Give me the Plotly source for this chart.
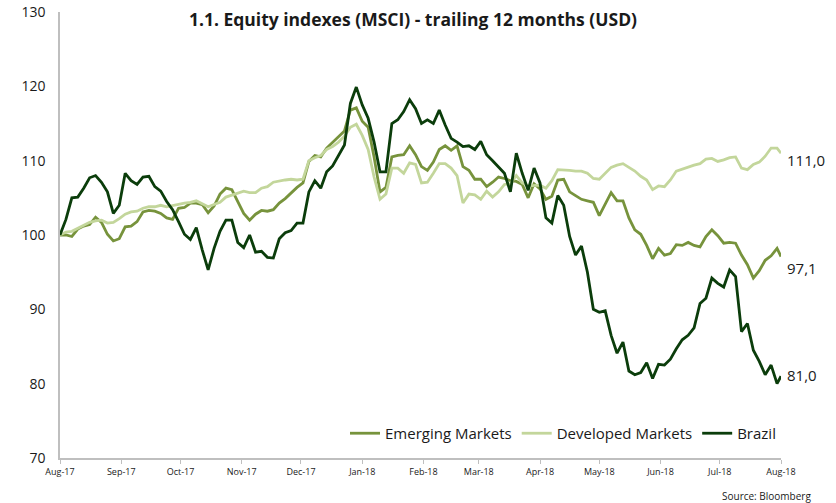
import pandas as pd
import plotly.graph_objects as go

# Dates: every 3 days from 1 Aug 2017, plus final point 1 Aug 2018
dates = list(pd.date_range("2017-08-01", periods=122, freq="3D")) + [pd.Timestamp("2018-08-01")]

emerging = [100, 100, 99.8, 100.8, 101.2, 101.4, 102.4, 101.7, 100.1, 99.2,
            99.5, 101.1, 101.2, 101.8, 103.1, 103.3, 103.2, 102.9, 102.3, 102.1,
            103.6, 103.7, 104.3, 104.3, 104.1, 103.0, 103.9, 105.5, 106.3, 106.1,
            104.5, 102.9, 102.0, 102.8, 103.3, 103.2, 103.4, 104.3, 104.9, 105.7,
            106.4, 107.0, 109.9, 110.7, 110.5, 111.7, 112.5, 113.3, 114.0, 116.8,
            117.1, 115.3, 114.5, 110.5, 105.8, 106.4, 110.5, 110.7, 110.8, 112.0,
            110.8, 109.2, 108.7, 109.8, 111.5, 112.0, 111.4, 112.0, 109.2, 108.7,
            107.5, 107.5, 106.5, 107.1, 107.8, 107.6, 107.3, 107.2, 106.8, 105.0,
            106.9, 106.2, 104.8, 105.2, 107.4, 107.5, 105.8, 105.3, 104.8, 104.6,
            104.4, 102.6, 104.2, 105.7, 104.6, 104.6, 102.3, 100.7, 100.1, 98.6,
            96.8, 98.2, 97.3, 97.5, 98.7, 98.6, 99.0, 98.6, 98.4, 99.8,
            100.7, 99.9, 98.9, 99.0, 98.9, 97.3, 96.0, 94.2, 95.2, 96.6,
            97.2, 98.2, 97.1]

developed = [100, 100.4, 100.5, 100.9, 101.4, 101.7, 101.9, 102.0, 101.6, 101.7,
             102.2, 102.8, 103.1, 103.2, 103.6, 103.8, 103.8, 104.0, 103.8, 104.0,
             104.1, 104.3, 104.4, 104.6, 104.2, 103.8, 104.1, 104.4, 105.1, 105.4,
             105.7, 105.9, 105.7, 105.7, 106.3, 106.5, 107.1, 107.3, 107.4, 107.5,
             107.4, 107.5, 110.0, 110.4, 110.7, 111.5, 111.9, 112.5, 113.3, 114.5,
             114.9, 113.4, 111.5, 107.8, 104.8, 105.5, 109.0, 109.0, 108.3, 109.7,
             109.5, 107.0, 107.1, 108.3, 109.6, 109.6, 109.0, 108.0, 104.3, 105.5,
             105.4, 104.8, 105.9, 105.1, 105.8, 106.8, 106.9, 108.0, 107.0, 106.6,
             106.7, 106.7, 106.3, 107.3, 108.8, 108.8, 108.7, 108.6, 108.6, 108.3,
             107.6, 107.5, 108.3, 109.1, 109.4, 109.6, 109.1, 108.6, 107.9, 107.4,
             106.1, 106.6, 106.5, 107.4, 108.6, 108.9, 109.1, 109.4, 109.6, 110.2,
             110.3, 109.9, 110.1, 110.4, 110.5, 109.0, 108.8, 109.5, 109.8, 110.6,
             111.7, 111.7, 111.0]

brazil = [100, 102.1, 105.0, 105.1, 106.3, 107.7, 108.0, 107.1, 105.8, 102.9,
          104.0, 108.3, 107.3, 106.8, 107.8, 107.9, 106.5, 105.9, 104.5, 103.4,
          101.8, 100.1, 99.4, 101.0, 98.0, 95.3, 98.2, 100.5, 102.0, 102.0,
          99.0, 98.3, 100.0, 97.7, 97.8, 97.0, 96.9, 99.5, 100.3, 100.6,
          101.6, 101.6, 105.8, 107.3, 106.3, 108.5, 109.3, 110.8, 112.1, 117.7,
          119.9, 117.5, 115.7, 112.5, 108.5, 108.5, 115.0, 115.5, 116.6, 118.2,
          117.0, 115.0, 115.5, 115.0, 116.8, 114.8, 113.0, 112.5, 111.9, 112.0,
          111.5, 112.6, 110.8, 110.0, 109.2, 108.3, 105.8, 111.0, 108.3, 106.0,
          109.0, 107.0, 102.3, 101.6, 105.3, 104.0, 99.8, 97.3, 98.5, 95.0,
          90.0, 89.6, 89.8, 86.5, 84.1, 85.6, 81.7, 81.2, 81.5, 82.8,
          80.7, 82.6, 82.5, 83.3, 84.7, 85.9, 86.5, 87.5, 90.8, 91.5,
          94.2, 93.5, 93.0, 95.3, 94.4, 87.0, 88.1, 84.5, 83.0, 81.2,
          82.5, 80.0, 81.0]

series_names = ["Emerging Markets", "Developed Markets", "Brazil"]
series_values = [emerging, developed, brazil]
colors = ["#77933c", "#c3d69b", "#0b3d0b"]
label_y = [95.5, 110.1, 81.2]  # vertical placement of end labels

month_ticks = list(pd.date_range("2017-08-01", "2018-08-01", freq="MS"))
month_labels = [d.strftime("%b-%y") for d in month_ticks]

fig = go.Figure()
for name, vals, col in zip(series_names, series_values, colors):
    fig.add_trace(go.Scatter(x=dates, y=vals, name=name, mode="lines",
                             line=dict(color=col, width=2.8)))

for vals, ly in zip(series_values, label_y):
    fig.add_annotation(x=dates[-1], y=ly, xref="x", yref="y",
                       text=f"{vals[-1]:.1f}".replace(".", ","),
                       showarrow=False, xanchor="left", xshift=4,
                       font=dict(size=15, color="#1a1a1a", family="Open Sans"))

fig.add_annotation(x=1.045, y=-0.085, xref="paper", yref="paper",
                   text="Source: Bloomberg", showarrow=False,
                   xanchor="right", yanchor="middle",
                   font=dict(size=10, color="#1a1a1a", family="Open Sans"))

fig.update_layout(
    width=836, height=503,
    margin=dict(l=60, r=55, t=12, b=45, autoexpand=False),
    paper_bgcolor="white", plot_bgcolor="white",
    title=dict(text="<b>1.1. Equity indexes (MSCI) - trailing 12 months (USD)</b>",
               x=0.494, xanchor="center", y=0.96, yanchor="middle",
               automargin=False,
               font=dict(size=17.5, color="#1a1a1a", family="Open Sans")),
    font=dict(family="Open Sans", color="#1a1a1a"),
    legend=dict(orientation="h", x=1.0, xanchor="right", y=0.055, yanchor="middle",
                font=dict(size=15, color="#1a1a1a"), bgcolor="rgba(0,0,0,0)",
                itemwidth=30, tracegroupgap=0),
    showlegend=True,
)
fig.update_xaxes(type="date", range=[month_ticks[0], month_ticks[-1]],
                 tickvals=month_ticks, ticktext=month_labels,
                 showgrid=False, zeroline=False, automargin=False,
                 showline=True, linecolor="#bfbfbf", linewidth=1.5,
                 ticks="outside", ticklen=4, tickcolor="#bfbfbf",
                 ticklabeloverflow="allow",
                 tickfont=dict(size=9, color="#1a1a1a", family="Open Sans"))
fig.update_yaxes(range=[70, 130], tickvals=[70, 80, 90, 100, 110, 120, 130],
                 showgrid=False, zeroline=False, automargin=False,
                 showline=True, linecolor="#bfbfbf", linewidth=1.5,
                 ticks="", ticklabelstandoff=10, ticklabeloverflow="allow",
                 tickfont=dict(size=14, color="#1a1a1a", family="Open Sans"))

# remove the default 8px page margin so the figure fills the window exactly
fig.write_html("out.html", config={"displayModeBar": False},
               post_script="document.body.style.margin='0';")
